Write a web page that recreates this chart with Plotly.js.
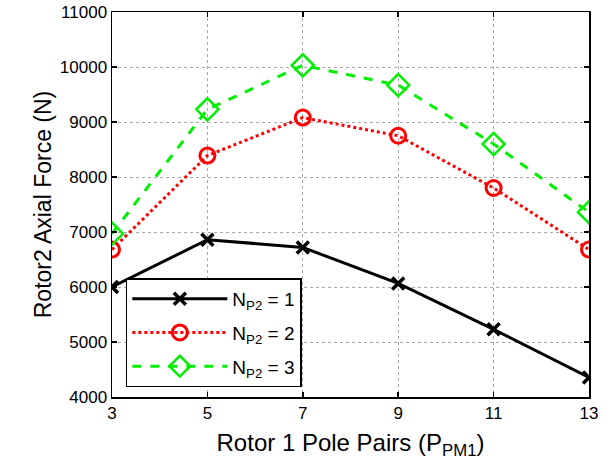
<!DOCTYPE html>
<html><head><meta charset="utf-8">
<script src="https://cdn.plot.ly/plotly-3.0.1.min.js"></script>
<style>body{margin:0;background:#fff}#c{width:610px;height:468px}</style>
</head><body><div id="c"></div>
<script>
const polePairs = [3, 5, 7, 9, 11, 13];
const forceN1 = [6000, 6860, 6720, 6065, 5230, 4355];
const forceN2 = [6680, 8390, 9080, 8750, 7800, 6680];
const forceN3 = [6970, 9230, 10030, 9670, 8600, 7360];
const seriesNames = ['N<sub>P2</sub> = 1', 'N<sub>P2</sub> = 2', 'N<sub>P2</sub> = 3'];
const xTicks = [3, 5, 7, 9, 11, 13];
const yTicks = [4000, 5000, 6000, 7000, 8000, 9000, 10000, 11000];

const traces = [
  {x: polePairs, y: forceN1, name: seriesNames[0], legendgroup: 'g1', mode: 'lines+markers',
   line: {color: '#000000', width: 3, dash: 'solid'},
   marker: {symbol: 'x-thin-open', size: 12, color: '#000000', line: {color: '#000000', width: 3.5}}},
  {x: polePairs, y: forceN2, name: seriesNames[1], legendgroup: 'g2', mode: 'lines+markers',
   line: {color: '#ff0000', width: 3, dash: 'dot'},
   marker: {symbol: 'circle-open', size: 15, color: '#ff0000', line: {color: '#ff0000', width: 3}}},
  {x: polePairs, y: forceN3, name: seriesNames[2], legendgroup: 'g3', mode: 'lines+markers',
   line: {color: '#00ee00', width: 3, dash: 'dash'},
   marker: {symbol: 'diamond-open', size: 17, color: '#00ee00', line: {color: '#00ee00', width: 2.5}}}
];

const axisCommon = {
  showline: true, linecolor: '#000', linewidth: 1.5, mirror: 'ticks',
  ticks: 'inside', ticklen: 5, tickwidth: 1.5, tickcolor: '#000',
  showgrid: true, gridcolor: '#a8a8a8', gridwidth: 1, griddash: 'dot',
  zeroline: false, tickformat: 'd',
  tickfont: {family: 'Liberation Sans, Arial, sans-serif', size: 17, color: '#000'}
};

const layout = {
  width: 610, height: 468,
  margin: {l: 112, r: 21, t: 12, b: 71},
  paper_bgcolor: '#fff', plot_bgcolor: '#fff',
  font: {family: 'Liberation Sans, Arial, sans-serif', color: '#000'},
  xaxis: Object.assign({}, axisCommon, {
    range: [3, 13], tickvals: xTicks,
    title: {text: 'Rotor 1 Pole Pairs (P<sub>PM1</sub>)', font: {size: 24}, standoff: 12}
  }),
  yaxis: Object.assign({}, axisCommon, {
    range: [4000, 11000], tickvals: yTicks,
    title: {text: 'Rotor2 Axial Force (N)', font: {size: 23}, standoff: 2}
  }),
  showlegend: true,
  legend: {
    x: 0.029, y: 0.308, xanchor: 'left', yanchor: 'top',
    bgcolor: '#fff', bordercolor: '#000', borderwidth: 1.5,
    font: {size: 19, family: 'Liberation Sans, Arial, sans-serif'},
    traceorder: 'grouped', tracegroupgap: 6,
    itemwidth: 95
  }
};

Plotly.newPlot('c', traces, layout, {displayModeBar: false, staticPlot: true});
</script></body></html>
